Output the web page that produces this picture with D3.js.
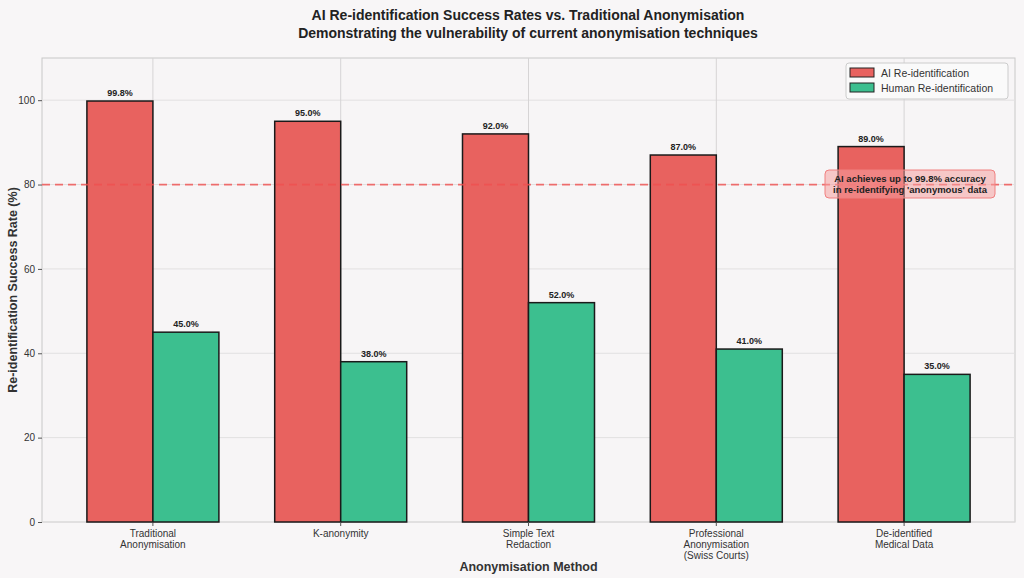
<!DOCTYPE html>
<html><head><meta charset="utf-8">
<script src="https://cdn.jsdelivr.net/npm/d3@7"></script>
<style>body{margin:0;background:#f8f6f7;font-family:"Liberation Sans",Arial,sans-serif}</style>
</head><body><div class="d3-container"></div>
<script>
// categories and series
const methods = [["Traditional","Anonymisation"],["K-anonymity"],["Simple Text","Redaction"],["Professional","Anonymisation","(Swiss Courts)"],["De-identified","Medical Data"]];
const aiRates = [99.8, 95.0, 92.0, 87.0, 89.0];
const humanRates = [45.0, 38.0, 52.0, 41.0, 35.0];
const yTicks = [0, 20, 40, 60, 80, 100];

const width = 1024, height = 578;
const margin = {top: 58, bottom: 56, left: 42, right: 9};
const red = "#e8625f", green = "#3cbf8f";

const svg = d3.select(".d3-container").append("svg")
  .attr("width", width).attr("height", height);

svg.append("rect").attr("width", width).attr("height", height).attr("fill", "#f8f6f7");

// band scale sits inside the frame with a little outer gap
const x = d3.scaleBand().domain(d3.range(methods.length))
  .range([59, 998]);
const y = d3.scaleLinear().domain([0, 110]).range([height - margin.bottom, margin.top]);
const barW = 66;

// plot frame
svg.append("rect").attr("x", margin.left).attr("y", margin.top)
  .attr("width", width - margin.left - margin.right).attr("height", y(0) - margin.top)
  .attr("fill", "#f7f5f6").attr("stroke", "#c8c8c8");

// grid
svg.append("g").selectAll("line").data(yTicks).join("line")
  .attr("x1", margin.left).attr("x2", width - margin.right)
  .attr("y1", d => y(d)).attr("y2", d => y(d)).attr("stroke", "#e2e0e1");
svg.append("g").selectAll("line").data(d3.range(methods.length)).join("line")
  .attr("x1", i => x(i) + x.bandwidth() / 2).attr("x2", i => x(i) + x.bandwidth() / 2)
  .attr("y1", margin.top).attr("y2", y(0)).attr("stroke", "#d6d4d5");

// bars
function bars(vals, color, off) {
  const g = svg.append("g");
  g.selectAll("rect").data(vals).join("rect")
    .attr("x", (d, i) => x(i) + x.bandwidth() / 2 + off)
    .attr("y", d => y(d)).attr("width", barW).attr("height", d => y(0) - y(d))
    .attr("fill", color).attr("stroke", "#1a1a1a").attr("stroke-width", 1.5);
  g.selectAll("text").data(vals).join("text")
    .attr("x", (d, i) => x(i) + x.bandwidth() / 2 + off + barW / 2)
    .attr("y", d => y(d) - 5).attr("text-anchor", "middle")
    .attr("font-size", 9).attr("font-weight", "bold").attr("fill", "#222")
    .text(d => d.toFixed(1) + "%");
}
bars(aiRates, red, -barW);
bars(humanRates, green, 0);

// reference line
svg.append("line").attr("x1", margin.left).attr("x2", width - margin.right)
  .attr("y1", y(80)).attr("y2", y(80)).attr("stroke", "#f05050")
  .attr("stroke-width", 1.8).attr("stroke-dasharray", "8,5").attr("opacity", 0.8);

// annotation
svg.append("rect").attr("x", 825).attr("y", 170).attr("width", 170).attr("height", 28)
  .attr("rx", 4).attr("fill", "#f5a0a0").attr("fill-opacity", 0.55).attr("stroke", "#f08080");
svg.append("text").attr("x", 910).attr("y", 182).attr("text-anchor", "middle")
  .attr("font-size", 9.5).attr("font-weight", "bold").attr("fill", "#222")
  .selectAll("tspan").data(["AI achieves up to 99.8% accuracy", "in re-identifying 'anonymous' data"]).join("tspan")
  .attr("x", 910).attr("dy", (d, i) => i ? 11 : 0).text(d => d);

// axes
const yAxis = svg.append("g").attr("transform", `translate(${margin.left},0)`)
  .call(d3.axisLeft(y).tickValues(yTicks).tickSize(4));
yAxis.select(".domain").remove();
yAxis.selectAll("text").attr("font-size", 10).attr("fill", "#333");
yAxis.selectAll("line").attr("stroke", "#555");

const xl = svg.append("g");
methods.forEach((lines, i) => {
  const cx = x(i) + x.bandwidth() / 2;
  xl.append("line").attr("x1", cx).attr("x2", cx).attr("y1", y(0)).attr("y2", y(0) + 4).attr("stroke", "#555");
  xl.append("text").attr("text-anchor", "middle").attr("font-size", 10).attr("fill", "#333")
    .selectAll("tspan").data(lines).join("tspan")
    .attr("x", cx).attr("y", (d, j) => y(0) + 15 + j * 11).text(d => d);
});

svg.append("text").attr("x", (margin.left + width - margin.right) / 2).attr("y", 571)
  .attr("text-anchor", "middle").attr("font-size", 12.5).attr("font-weight", "bold").attr("fill", "#333")
  .text("Anonymisation Method");
svg.append("text").attr("transform", `translate(17,${(margin.top + y(0)) / 2}) rotate(-90)`)
  .attr("text-anchor", "middle").attr("font-size", 12.5).attr("font-weight", "bold").attr("fill", "#333")
  .text("Re-identification Success Rate (%)");

// title
svg.append("text").attr("x", 528).attr("y", 20).attr("text-anchor", "middle")
  .attr("font-size", 14).attr("font-weight", "bold").attr("fill", "#222")
  .text("AI Re-identification Success Rates vs. Traditional Anonymisation");
svg.append("text").attr("x", 528).attr("y", 38).attr("text-anchor", "middle")
  .attr("font-size", 14).attr("font-weight", "bold").attr("fill", "#222")
  .text("Demonstrating the vulnerability of current anonymisation techniques");

// legend
const lg = svg.append("g").attr("transform", "translate(846,63)");
lg.append("rect").attr("x", 0).attr("y", 0).attr("width", 162).attr("height", 36).attr("rx", 3)
  .attr("fill", "#fafafa").attr("stroke", "#ccc");
[["AI Re-identification", red], ["Human Re-identification", green]].forEach(([t, c], i) => {
  lg.append("rect").attr("x", 4).attr("y", 5 + i * 15).attr("width", 24).attr("height", 9)
    .attr("fill", c).attr("stroke", "#222");
  lg.append("text").attr("x", 35).attr("y", 13.5 + i * 15).attr("font-size", 10.5).attr("fill", "#333").text(t);
});
</script></body></html>
